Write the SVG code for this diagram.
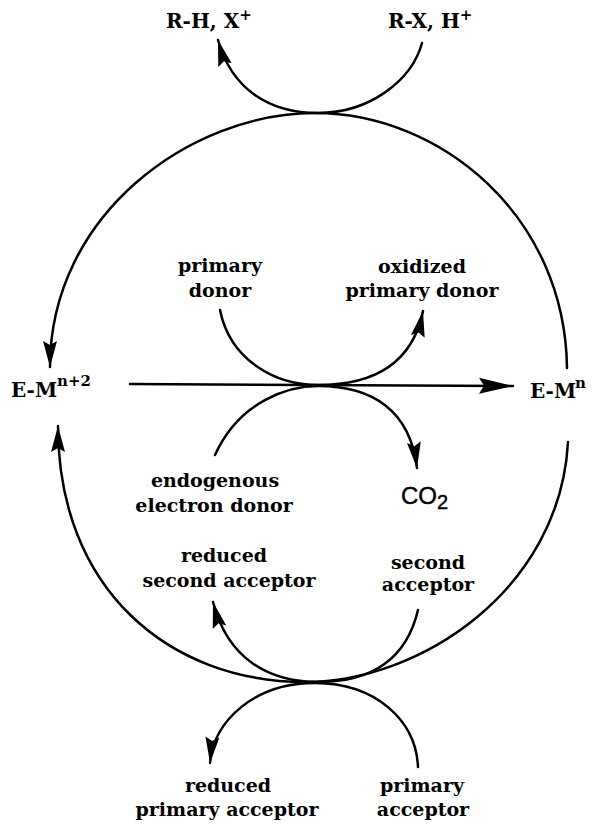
<svg xmlns="http://www.w3.org/2000/svg" width="594" height="827" viewBox="0 0 594 827">
<defs>
<style>
.ln{fill:none;stroke:#000;stroke-width:2.5;stroke-linecap:round}
.t{font-family:"DejaVu Serif","Liberation Serif",serif;font-weight:bold;font-size:19px;fill:#000;text-anchor:middle}
.ts{font-family:"DejaVu Serif","Liberation Serif",serif;font-weight:bold;fill:#000}
.sans{font-family:"Liberation Sans",Arial,sans-serif;fill:#000;stroke:#000;stroke-width:0.4}
</style>
<marker id="ah" markerUnits="userSpaceOnUse" markerWidth="26" markerHeight="16" viewBox="0 0 26 16" refX="26" refY="8" orient="auto">
<path d="M0,1 L26,8 L0,15 L4,8 Z" fill="#000"/>
</marker>
<marker id="ahL" markerUnits="userSpaceOnUse" markerWidth="34" markerHeight="18" viewBox="0 0 34 18" refX="34" refY="9" orient="auto">
<path d="M0,1 L34,9 L0,17 L5,9 Z" fill="#000"/>
</marker>
</defs>
<rect width="594" height="827" fill="#fff"/>

<g id="connectors">
<path class="ln" d="M567,368 C565,215 440,113 315,113 C190,113 50,215 50,367" marker-end="url(#ah)"/>
<path class="ln" d="M568,442 C560,590 420,682 305,682 C170,682 58,590 58,426" marker-end="url(#ah)"/>
<path class="ln" d="M422,43 C412,80 370,113 318,113 C270,113 232,90 218,40" marker-end="url(#ah)"/>
<path class="ln" d="M130,384 L513,386" marker-end="url(#ahL)"/>
<path class="ln" d="M220,310 C230,360 275,385 318,385 C372,385 412,365 423,311" marker-end="url(#ah)"/>
<path class="ln" d="M215,455 C240,400 290,386 318,386 C372,386 410,410 417,468" marker-end="url(#ah)"/>
<path class="ln" d="M418,610 C405,665 365,682 318,682 C270,682 228,660 213,602" marker-end="url(#ah)"/>
<path class="ln" d="M418,767 C416,720 375,683 315,683 C255,683 214,720 210,763" marker-end="url(#ah)"/>
</g>

<g id="n_RH"><text class="ts" x="166" y="28" font-size="20">R-H, X<tspan font-size="15" dy="-8">+</tspan></text></g>
<g id="n_RX"><text class="ts" x="388" y="28" font-size="20">R-X, H<tspan font-size="15" dy="-8">+</tspan></text></g>

<g id="n_primary_donor"><text class="t" x="220" y="272">primary</text><text class="t" x="220" y="297">donor</text></g>
<g id="n_oxidized_primary_donor"><text class="t" x="422" y="273">oxidized</text><text class="t" x="422" y="297">primary donor</text></g>

<g id="n_EMn2"><text class="ts" x="11" y="397" font-size="20">E-M</text><text class="ts" x="57" y="386" font-size="15">n+2</text></g>
<g id="n_EMn"><text class="ts" x="530" y="398" font-size="20">E-M</text><text class="ts" x="575" y="388" font-size="15">n</text></g>

<g id="n_endogenous"><text class="t" x="215" y="487">endogenous</text><text class="t" x="214" y="512">electron donor</text></g>
<g id="n_CO2"><text class="sans" x="401" y="504" font-size="24">CO<tspan font-size="20" dy="5">2</tspan></text></g>

<g id="n_reduced_second_acceptor"><text class="t" x="224" y="562">reduced</text><text class="t" x="229" y="587">second acceptor</text></g>
<g id="n_second_acceptor"><text class="t" x="428" y="569">second</text><text class="t" x="428" y="591">acceptor</text></g>

<g id="n_reduced_primary_acceptor"><text class="t" x="228" y="792">reduced</text><text class="t" x="227" y="816">primary acceptor</text></g>
<g id="n_primary_acceptor"><text class="t" x="422" y="792">primary</text><text class="t" x="423" y="816">acceptor</text></g>
</svg>
